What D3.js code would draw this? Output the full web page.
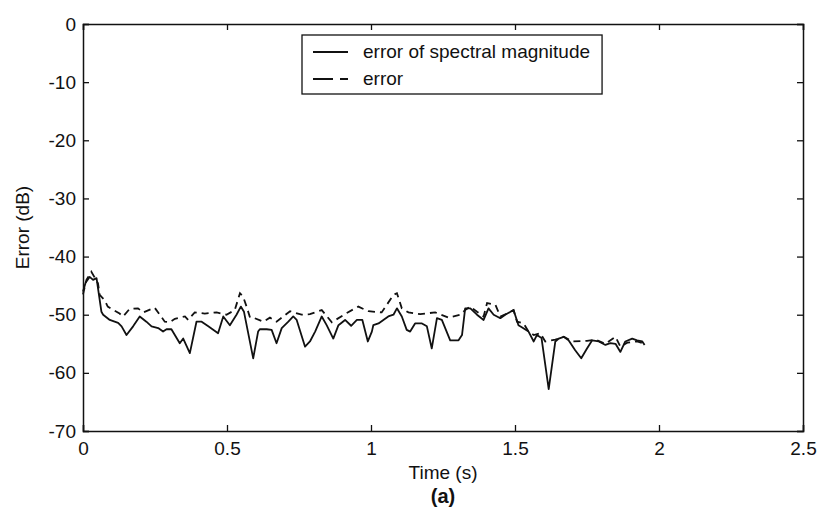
<!DOCTYPE html>
<html><head><meta charset="utf-8">
<script src="https://cdn.jsdelivr.net/npm/d3@7"></script>
<style>body{margin:0;background:#fff}svg{display:block}text{font-family:"Liberation Sans",Arial,sans-serif;fill:#111}</style>
</head><body><svg id="c" width="818" height="517"></svg>
<script>
const xTicks=[0,0.5,1,1.5,2,2.5];
const yTicks=[0,-10,-20,-30,-40,-50,-60,-70];
const specT=[0,0.009,0.023,0.035,0.047,0.064,0.070,0.093,0.122,0.134,0.151,0.174,0.197,0.220,0.238,0.261,0.278,0.290,0.307,0.336,0.348,0.371,0.394,0.412,0.435,0.469,0.487,0.510,0.533,0.548,0.559,0.591,0.608,0.614,0.638,0.655,0.672,0.690,0.713,0.730,0.742,0.771,0.788,0.806,0.829,0.846,0.869,0.887,0.910,0.931,0.951,0.970,0.989,1.003,1.008,1.026,1.043,1.060,1.078,1.090,1.107,1.124,1.136,1.153,1.177,1.194,1.211,1.229,1.246,1.275,1.304,1.316,1.327,1.345,1.368,1.391,1.408,1.426,1.449,1.466,1.495,1.512,1.518,1.547,1.565,1.576,1.592,1.617,1.640,1.652,1.669,1.686,1.709,1.730,1.750,1.768,1.791,1.814,1.831,1.849,1.866,1.883,1.907,1.924,1.942,1.950];
const specV=[-46.0,-44.5,-43.5,-44.0,-43.7,-49.5,-50.0,-50.9,-51.4,-52.0,-53.5,-52.0,-50.3,-51.2,-52.0,-52.3,-52.9,-52.5,-52.5,-54.9,-54.1,-56.6,-51.2,-51.2,-52.0,-53.2,-50.3,-51.8,-50.0,-48.6,-49.5,-57.5,-52.9,-52.5,-52.5,-52.6,-54.9,-52.3,-51.2,-50.3,-50.9,-55.5,-54.6,-52.9,-50.3,-51.8,-54.1,-51.8,-50.9,-51.9,-50.9,-50.9,-54.6,-52.9,-51.8,-51.5,-50.9,-50.3,-50.0,-48.9,-50.3,-52.6,-52.9,-51.5,-51.5,-52.0,-55.8,-50.6,-50.9,-54.4,-54.4,-53.5,-48.9,-48.9,-50.0,-50.9,-48.9,-50.0,-50.6,-50.0,-49.2,-51.8,-52.0,-52.9,-54.6,-53.5,-54.0,-62.8,-54.6,-54.1,-53.8,-54.4,-56.1,-57.5,-55.8,-54.4,-54.6,-55.2,-54.9,-55.0,-56.4,-54.6,-54.1,-54.4,-54.6,-55.2];
const errT=[0,0.012,0.029,0.052,0.058,0.075,0.086,0.127,0.139,0.162,0.191,0.209,0.249,0.284,0.301,0.319,0.354,0.365,0.388,0.423,0.464,0.498,0.527,0.545,0.556,0.568,0.580,0.591,0.626,0.649,0.672,0.719,0.759,0.788,0.829,0.864,0.916,0.956,0.991,1.037,1.078,1.090,1.107,1.130,1.171,1.223,1.269,1.310,1.327,1.345,1.368,1.391,1.403,1.432,1.449,1.472,1.495,1.507,1.530,1.547,1.565,1.588,1.605,1.640,1.669,1.700,1.750,1.780,1.814,1.849,1.866,1.890,1.924,1.950];
const errV=[-46.5,-44.0,-42.6,-44.6,-46.6,-47.5,-48.6,-49.8,-50.3,-49.0,-48.9,-49.6,-48.8,-51.2,-51.3,-50.7,-50.3,-50.9,-49.6,-49.8,-49.6,-50.0,-49.2,-46.3,-46.9,-48.6,-50.5,-50.5,-51.2,-50.5,-51.2,-49.4,-50.0,-49.9,-49.2,-51.3,-49.7,-48.6,-49.4,-49.6,-46.6,-46.3,-48.9,-49.6,-49.9,-49.6,-50.5,-50.0,-49.2,-48.6,-49.5,-50.3,-48.0,-48.3,-50.3,-49.8,-49.2,-51.2,-51.5,-52.9,-53.5,-53.2,-54.6,-54.3,-53.8,-54.6,-54.5,-54.3,-55.0,-53.8,-55.5,-54.8,-54.6,-55.0];
const legendLabels=["error of spectral magnitude","error"];

const W=818,H=517,m={l:83,r:15,t:24,b:86};
const svg=d3.select("#c");
const x=d3.scaleLinear().domain([0,2.5]).range([m.l,W-m.r]);
const y=d3.scaleLinear().domain([-70,0]).range([H-m.b,m.t]);
const fs=19;
const tl=6;
const fmt=d=>String(d);
svg.append("g").attr("transform",`translate(0,${H-m.b})`).call(d3.axisBottom(x).tickValues(xTicks).tickSize(-tl).tickPadding(11).tickFormat(fmt));
svg.append("g").attr("transform",`translate(${m.l},0)`).call(d3.axisLeft(y).tickValues(yTicks).tickSize(-tl).tickPadding(7).tickFormat(fmt));
svg.append("g").attr("transform",`translate(0,${m.t})`).call(d3.axisTop(x).tickValues(xTicks).tickSize(-tl).tickFormat(""));
svg.append("g").attr("transform",`translate(${W-m.r},0)`).call(d3.axisRight(y).tickValues(yTicks).tickSize(-tl).tickFormat(""));
svg.selectAll(".domain").attr("stroke","#111").attr("stroke-width",1.5);
svg.selectAll(".tick line").attr("stroke","#111").attr("stroke-width",1.3);
svg.selectAll(".tick text").attr("font-size",fs).attr("font-family","Liberation Sans, Arial, sans-serif").attr("fill","#111");
const line=(T)=>d3.line().x((d,i)=>x(T[i])).y(d=>y(d));
svg.append("path").datum(specV).attr("d",line(specT)).attr("fill","none").attr("stroke","#111").attr("stroke-width",1.8).attr("stroke-linejoin","round");
svg.append("path").datum(errV).attr("d",line(errT)).attr("fill","none").attr("stroke","#111").attr("stroke-width",1.8).attr("stroke-dasharray","7,5");
svg.append("text").attr("x",x(1.25)).attr("y",479).attr("text-anchor","middle").attr("font-size",fs).text("Time (s)");
svg.append("text").attr("transform",`translate(29,${y(-35)}) rotate(-90)`).attr("text-anchor","middle").attr("font-size",fs).text("Error (dB)");
svg.append("text").attr("x",x(1.25)).attr("y",503).attr("text-anchor","middle").attr("font-size",20).attr("font-weight","bold").text("(a)");
const lg=svg.append("g");
const lx=302,ly=35;
const tw=[];
legendLabels.forEach((s,i)=>{
  const t=lg.append("text").attr("x",lx+61).attr("y",ly+23+i*27).attr("font-size",fs).text(s);
  tw.push(t.node().getComputedTextLength());
});
lg.insert("rect","text").attr("x",lx).attr("y",ly).attr("width",61+d3.max(tw)+12).attr("height",59).attr("fill","#fff").attr("stroke","#111").attr("stroke-width",1.3);
lg.append("line").attr("x1",lx+11).attr("x2",lx+46).attr("y1",ly+17).attr("y2",ly+17).attr("stroke","#111").attr("stroke-width",1.8);
lg.append("line").attr("x1",lx+11).attr("x2",lx+46).attr("y1",ly+44).attr("y2",ly+44).attr("stroke","#111").attr("stroke-width",1.8).attr("stroke-dasharray","20,7");
</script></body></html>
